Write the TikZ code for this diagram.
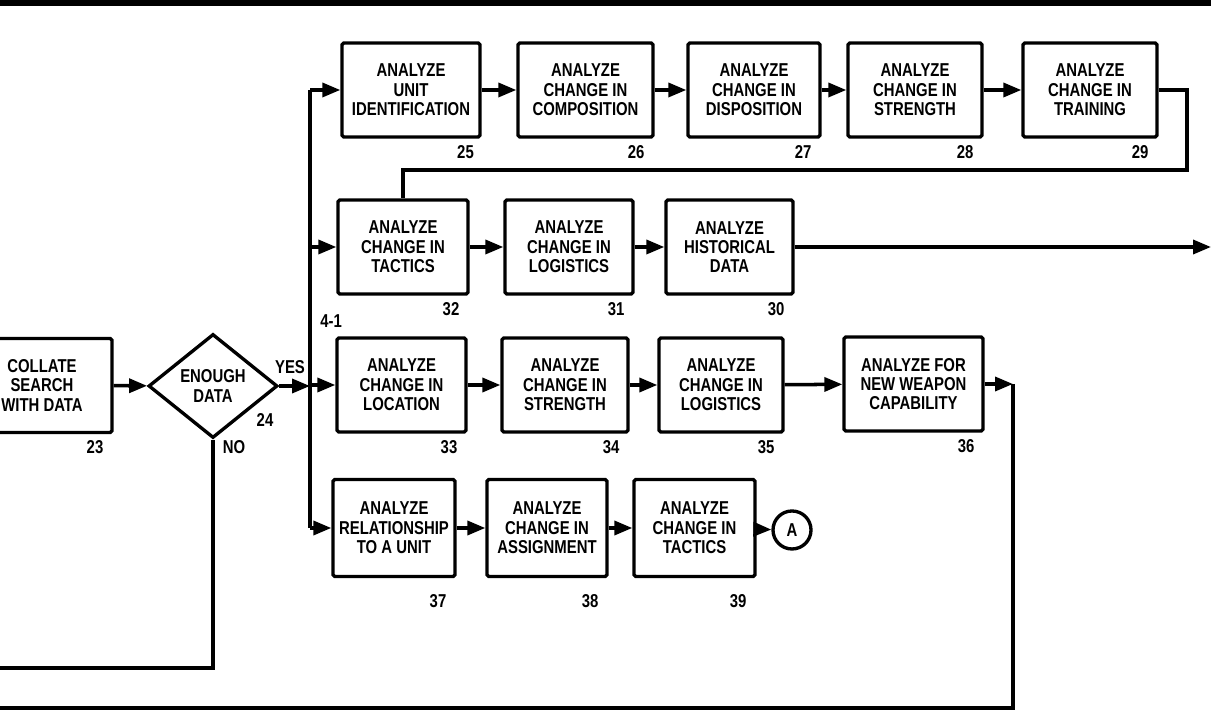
\documentclass[tikz,border=0pt]{standalone}
\usepackage{fontspec}
\newfontfamily\flowfont[FakeStretch=0.8]{Liberation Sans}
\usetikzlibrary{shapes.geometric,arrows.meta}

\tikzset{
  stepbox/.style={draw, line width=1.9pt, rounded corners=1pt, minimum width=2.6cm,
    minimum height=1.88cm, align=center, inner sep=1pt},
  wire/.style={line width=2pt},
  arr/.style={wire, -{Triangle[length=3.6mm,width=2.8mm]}},
  numlbl/.style={anchor=north east, inner sep=0pt, xshift=-0.2cm, yshift=-0.12cm},
}

\begin{document}
\begin{tikzpicture}[font=\flowfont\bfseries\fontsize{10.6}{11}\selectfont]
    \clip (0,0) rectangle (24.22,14.24);
    \draw[line width=3.4pt] (0,14.18) -- (24.22,14.18);

    % entry and decision
    \node[stepbox, minimum width=2.8cm] (b23) at (0.84,6.53) {COLLATE\\SEARCH\\WITH DATA};
    \node[diamond, draw, line width=1.9pt, minimum width=2.58cm, minimum height=2.08cm,
      inner sep=0pt, align=center] (d24) at (4.26,6.52) {ENOUGH\\DATA};

    % first row
    \node[stepbox, minimum width=2.76cm] (b25) at (8.22,12.44) {ANALYZE\\UNIT\\IDENTIFICATION};
    \node[stepbox, minimum width=2.70cm] (b26) at (11.71,12.44) {ANALYZE\\CHANGE IN\\COMPOSITION};
    \node[stepbox, minimum width=2.64cm] (b27) at (15.08,12.44) {ANALYZE\\CHANGE IN\\DISPOSITION};
    \node[stepbox, minimum width=2.68cm] (b28) at (18.30,12.44) {ANALYZE\\CHANGE IN\\STRENGTH};
    \node[stepbox, minimum width=2.68cm] (b29) at (21.80,12.44) {ANALYZE\\CHANGE IN\\TRAINING};

    % second row
    \node[stepbox] (b32) at (8.06,9.30) {ANALYZE\\CHANGE IN\\TACTICS};
    \node[stepbox, minimum width=2.56cm] (b31) at (11.38,9.30) {ANALYZE\\CHANGE IN\\LOGISTICS};
    \node[stepbox, minimum width=2.54cm] (b30) at (14.59,9.30) {ANALYZE\\HISTORICAL\\DATA};

    % third row
    \node[stepbox, minimum width=2.58cm] (b33) at (8.03,6.54) {ANALYZE\\CHANGE IN\\LOCATION};
    \node[stepbox, minimum width=2.52cm] (b34) at (11.30,6.54) {ANALYZE\\CHANGE IN\\STRENGTH};
    \node[stepbox, minimum width=2.48cm] (b35) at (14.42,6.54) {ANALYZE\\CHANGE IN\\LOGISTICS};
    \node[stepbox, minimum width=2.78cm] (b36) at (18.27,6.56) {ANALYZE FOR\\NEW WEAPON\\CAPABILITY};

    % fourth row
    \node[stepbox, minimum width=2.44cm, minimum height=1.94cm] (b37) at (7.88,3.68) {ANALYZE\\RELATIONSHIP\\TO A UNIT};
    \node[stepbox, minimum width=2.40cm, minimum height=1.94cm] (b38) at (10.94,3.68) {ANALYZE\\CHANGE IN\\ASSIGNMENT};
    \node[stepbox, minimum width=2.42cm, minimum height=1.94cm] (b39) at (13.89,3.68) {ANALYZE\\CHANGE IN\\TACTICS};
    \node[draw, circle, line width=1.9pt, minimum size=0.76cm, inner sep=0pt] (cA) at (15.84,3.64) {A};

    % numbers
    \node[numlbl] (n23) at (b23.south east) {23};
    \node[numlbl, xshift=0.05cm] (n25) at (b25.south east) {25};
    \node[numlbl] (n26) at (b26.south east) {26};
    \node[numlbl] (n27) at (b27.south east) {27};
    \node[numlbl] (n28) at (b28.south east) {28};
    \node[numlbl] (n29) at (b29.south east) {29};
    \node[numlbl] (n32) at (b32.south east) {32};
    \node[numlbl] (n31) at (b31.south east) {31};
    \node[numlbl] (n30) at (b30.south east) {30};
    \node[numlbl] (n33) at (b33.south east) {33};
    \node[numlbl] (n34) at (b34.south east) {34};
    \node[numlbl] (n35) at (b35.south east) {35};
    \node[numlbl] (n36) at (b36.south east) {36};
    \node[numlbl, yshift=-0.2cm] (n37) at (b37.south east) {37};
    \node[numlbl, yshift=-0.2cm] (n38) at (b38.south east) {38};
    \node[numlbl, yshift=-0.2cm] (n39) at (b39.south east) {39};
    \node (n24) at (5.30,5.84) {24};
    \node (yes) at (5.80,6.90) {YES};
    \node (no) at (4.68,5.30) {NO};
    \node[anchor=west, inner sep=0pt] (ref41) at (6.40,7.82) {4-1};

    % bus on the left
    \coordinate (bustop) at (6.2,12.44);
    \coordinate (busbot) at (6.2,3.68);
    \draw[wire] (bustop) -- (busbot);
    \draw[arr] (b23) -- (d24);
    \draw[arr] (d24.east) -- (d24.east -| bustop);
    \draw[arr] (bustop) -- (b25);
    \draw[arr] (b32.west -| bustop) -- (b32);
    \draw[arr] (b33.west -| bustop) -- (b33);
    \draw[arr] (busbot) -- (b37);

    % rows
    \draw[arr] (b25) -- (b26);
    \draw[arr] (b26) -- (b27);
    \draw[arr] (b27) -- (b28);
    \draw[arr] (b28) -- (b29);
    \draw[arr] (b32) -- (b31);
    \draw[arr] (b31) -- (b30);
    \draw[arr] (b33) -- (b34);
    \draw[arr] (b34) -- (b35);
    \draw[arr] (b35) -- (b36);
    \draw[arr] (b37) -- (b38);
    \draw[arr] (b38) -- (b39);
    \draw[arr] (b39) -- (cA);

    % loops
    \coordinate (ret29) at (23.74,10.84);
    \draw[wire] (b29.east) -| (ret29) -| (b32.north);
    \coordinate (exitR) at (24.22,9.28);
    \draw[arr] (b30.east) -- (b30.east -| exitR);
    \coordinate (turn36) at (20.26,0.08);
    \draw[arr] (b36.east) -- (b36.east -| turn36);
    \draw[wire] (b36.east -| turn36) -- (turn36) -- (0,0.08);
    \draw[wire] (d24.south) |- (0,0.88);
\end{tikzpicture}
\end{document}
